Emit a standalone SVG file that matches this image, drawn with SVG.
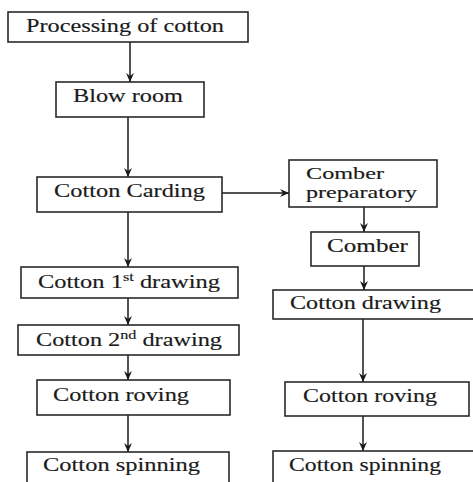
<svg xmlns="http://www.w3.org/2000/svg" width="473" height="482" viewBox="0 0 473 482">
<defs>
<marker id="ah" markerWidth="10" markerHeight="10" refX="9" refY="5" orient="auto" markerUnits="userSpaceOnUse">
<path d="M0,1 L9,5 L0,9 L3,5 Z" fill="#1a1a1a"/>
</marker>
<style>
.box{fill:#fff;stroke:#2a2a2a;stroke-width:1.6}
.t{font-family:"Liberation Serif","Times New Roman",serif;font-size:18px;fill:#1a1a1a;stroke:#1a1a1a;stroke-width:0.15}
.s{font-size:16.5px}
.c{stroke:#1a1a1a;stroke-width:1.5;fill:none;marker-end:url(#ah)}
.sup{font-size:12px}
</style>
</defs>
<rect width="473" height="482" fill="#fff"/>
<g id="connectors">
<line class="c" x1="130" y1="42" x2="130" y2="82"/>
<line class="c" x1="128" y1="117" x2="128" y2="177"/>
<line class="c" x1="128" y1="212" x2="128" y2="267"/>
<line class="c" x1="128" y1="298" x2="128" y2="325"/>
<line class="c" x1="128" y1="355" x2="128" y2="380"/>
<line class="c" x1="128" y1="415" x2="128" y2="452"/>
<line class="c" x1="222" y1="193" x2="289" y2="193"/>
<line class="c" x1="364" y1="207" x2="364" y2="232"/>
<line class="c" x1="364" y1="266" x2="364" y2="290"/>
<line class="c" x1="363" y1="319" x2="363" y2="382"/>
<line class="c" x1="363" y1="416" x2="363" y2="451"/>
</g>
<g id="processing">
<rect class="box" x="8" y="12" width="240" height="30"/>
<text class="t" x="26" y="32" textLength="198" lengthAdjust="spacingAndGlyphs">Processing of cotton</text>
</g>
<g id="blowroom">
<rect class="box" x="56" y="82" width="148" height="35"/>
<text class="t" x="73" y="102" textLength="110" lengthAdjust="spacingAndGlyphs">Blow room</text>
</g>
<g id="carding">
<rect class="box" x="37" y="177" width="185" height="35"/>
<text class="t" x="54" y="197" textLength="151" lengthAdjust="spacingAndGlyphs">Cotton Carding</text>
</g>
<g id="drawing1">
<rect class="box" x="21" y="267" width="217" height="31"/>
<text class="t" x="38" y="288" textLength="182" lengthAdjust="spacingAndGlyphs">Cotton 1<tspan class="sup" dy="-7">st</tspan><tspan dy="7"> drawing</tspan></text>
</g>
<g id="drawing2">
<rect class="box" x="18" y="325" width="221" height="30"/>
<text class="t" x="36" y="346" textLength="186" lengthAdjust="spacingAndGlyphs">Cotton 2<tspan class="sup" dy="-7">nd</tspan><tspan dy="7"> drawing</tspan></text>
</g>
<g id="rovingL">
<rect class="box" x="37" y="380" width="193" height="35"/>
<text class="t" x="53" y="401" textLength="136" lengthAdjust="spacingAndGlyphs">Cotton roving</text>
</g>
<g id="spinningL">
<rect class="box" x="27" y="452" width="202" height="40"/>
<text class="t" x="43" y="471" textLength="157" lengthAdjust="spacingAndGlyphs">Cotton spinning</text>
</g>
<g id="comberprep">
<rect class="box" x="289" y="160" width="148" height="47"/>
<text class="t s" x="306" y="178.5" textLength="78" lengthAdjust="spacingAndGlyphs">Comber</text>
<text class="t s" x="306" y="198" textLength="111" lengthAdjust="spacingAndGlyphs">preparatory</text>
</g>
<g id="comber">
<rect class="box" x="311" y="232" width="108" height="34"/>
<text class="t" x="327" y="252" textLength="81" lengthAdjust="spacingAndGlyphs">Comber</text>
</g>
<g id="drawingR">
<rect class="box" x="273" y="290" width="220" height="29"/>
<text class="t" x="290" y="309" textLength="151" lengthAdjust="spacingAndGlyphs">Cotton drawing</text>
</g>
<g id="rovingR">
<rect class="box" x="285" y="382" width="184" height="34"/>
<text class="t" x="303" y="402" textLength="134" lengthAdjust="spacingAndGlyphs">Cotton roving</text>
</g>
<g id="spinningR">
<rect class="box" x="273" y="451" width="220" height="40"/>
<text class="t" x="289" y="471" textLength="152" lengthAdjust="spacingAndGlyphs">Cotton spinning</text>
</g>
</svg>
